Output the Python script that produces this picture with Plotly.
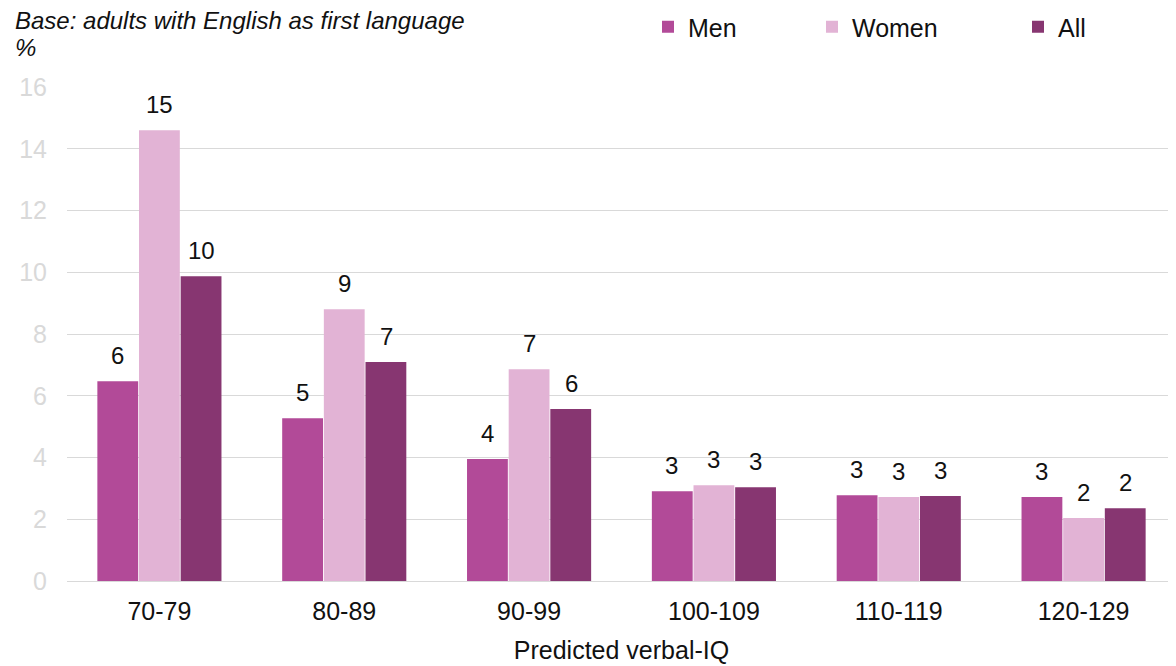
import plotly.graph_objects as go

categories = ["70-79", "80-89", "90-99", "100-109", "110-119", "120-129"]
men = [6.47, 5.27, 3.95, 2.91, 2.78, 2.72]
women = [14.6, 8.8, 6.86, 3.1, 2.72, 2.04]
all_ = [9.87, 7.09, 5.57, 3.04, 2.75, 2.36]
series_names = ["Men", "Women", "All"]
colors = ["#B24A98", "#E2B3D5", "#873671"]

FONT = "Liberation Sans, Arial, sans-serif"
TXT = "#111111"

OFF = 8  # page body margin
W, H = 1176 - OFF, 666 - OFF
L, T = 67 - OFF, 87 - OFF
R = 0
B = H - (581 - OFF)
PW, PH = W - L - R, H - T - B


def px_x(px):
    return (px - OFF - L) / PW


def px_y(py):
    return (H - B - (py - OFF)) / PH


fig = go.Figure()
legend_ids = ["legend", "legend2", "legend3"]
for name, vals, col, lg in zip(series_names, [men, women, all_], colors, legend_ids):
    fig.add_trace(go.Bar(
        x=categories, y=vals, name=name, legend=lg,
        marker=dict(color=col, line=dict(width=0)),
    ))

# data labels
offsets = [-42, 0, 42]
annotations = []
for vals, off in zip([men, women, all_], offsets):
    for c, v in zip(categories, vals):
        annotations.append(dict(
            x=c, y=v, xref="x", yref="y", text=str(int(round(v))),
            showarrow=False, xshift=off, yshift=26, yanchor="middle",
            font=dict(family=FONT, size=24, color=TXT),
        ))

annotations.append(dict(
    x=px_x(13), y=px_y(20), xref="paper", yref="paper",
    xanchor="left", yanchor="middle",
    text="<i>Base: adults with English as first language</i>", showarrow=False,
    font=dict(family=FONT, size=24, color=TXT)))
annotations.append(dict(
    x=px_x(13), y=px_y(48), xref="paper", yref="paper",
    xanchor="left", yanchor="middle",
    text="<i>%</i>", showarrow=False,
    font=dict(family=FONT, size=24, color=TXT)))

legend_x = [648, 812, 1018]
legend_common = dict(orientation="h", xref="container", yref="container",
                     xanchor="left", yanchor="middle", y=1 - (27 - OFF) / H,
                     font=dict(family=FONT, size=25, color=TXT),
                     bgcolor="rgba(0,0,0,0)", borderwidth=0)

fig.update_layout(
    width=W, height=H,
    margin=dict(l=L, r=R, t=T, b=B, autoexpand=False),
    paper_bgcolor="white", plot_bgcolor="white",
    barmode="group", bargap=0.324, bargroupgap=0.02,
    font=dict(family=FONT, size=25, color=TXT),
    showlegend=True,
    legend=dict(x=(legend_x[0] - OFF) / W, **legend_common),
    legend2=dict(x=(legend_x[1] - OFF) / W, **legend_common),
    legend3=dict(x=(legend_x[2] - OFF) / W, **legend_common),
    xaxis=dict(
        title=dict(text="Predicted verbal-IQ", font=dict(family=FONT, size=25, color=TXT), standoff=17),
        tickfont=dict(family=FONT, size=25, color=TXT),
        showgrid=False, showline=False, ticks="", automargin=False,
        ticklabelstandoff=13,
    ),
    yaxis=dict(
        range=[0, 16], dtick=2, showgrid=True, gridcolor="#D9D9D9", gridwidth=1,
        zeroline=True, zerolinecolor="#D9D9D9", zerolinewidth=1,
        tickfont=dict(family=FONT, size=25, color="#D9D9D9"),
        ticks="", ticklabelstandoff=19, automargin=False,
    ),
    annotations=annotations,
)

fig.write_html("out.html")
